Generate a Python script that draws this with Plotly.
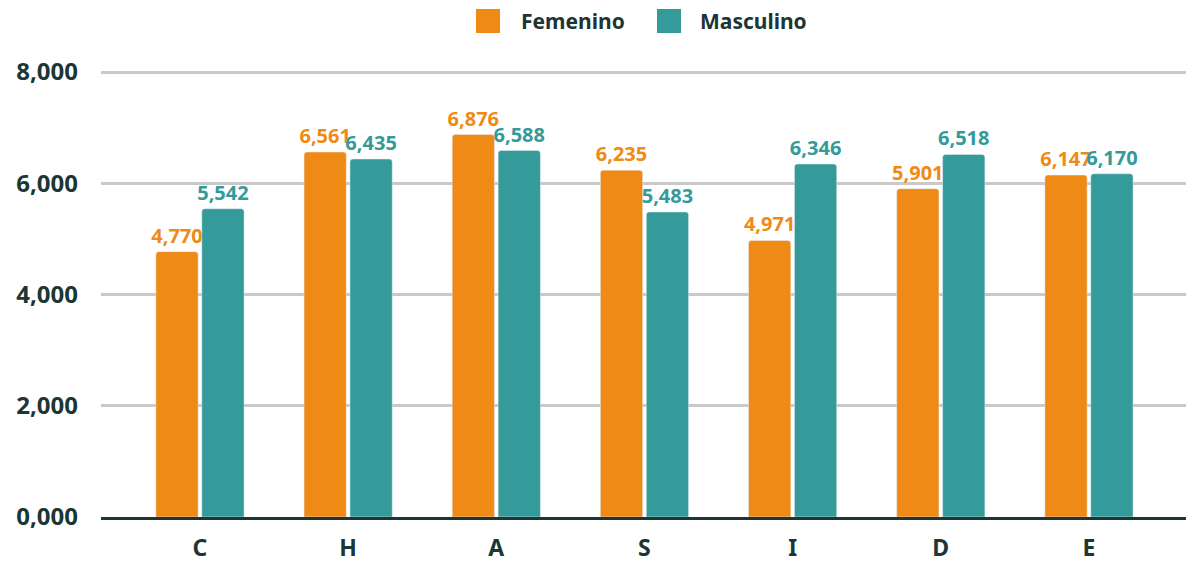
import plotly.graph_objects as go

categories = ["C", "H", "A", "S", "I", "D", "E"]
femenino = [4770, 6561, 6876, 6235, 4971, 5901, 6147]
masculino = [5542, 6435, 6588, 5483, 6346, 6518, 6170]
y_tickvals = [0, 2000, 4000, 6000, 8000]
y_ticktext = ["0,000", "2,000", "4,000", "6,000", "8,000"]

ORANGE = "#F08A16"
TEAL = "#349A9A"
DARK = "#1C3535"
FONT = "Noto Sans"

fig = go.Figure()
fig.add_trace(go.Bar(
    x=categories, y=femenino, name="Femenino",
    marker=dict(color=ORANGE, cornerradius=3),
    text=[f"{v:,}" for v in femenino], textposition="outside",
    textfont=dict(family=FONT, size=20, color=ORANGE, weight="bold"),
    cliponaxis=False, constraintext="none", showlegend=False,
))
fig.add_trace(go.Bar(
    x=categories, y=masculino, name="Masculino",
    marker=dict(color=TEAL, cornerradius=3),
    text=[f"{v:,}" for v in masculino], textposition="outside",
    textfont=dict(family=FONT, size=20, color=TEAL, weight="bold"),
    cliponaxis=False, constraintext="none", showlegend=False,
))

T, B = 70, 45
H = 562 - T - B

# Legend drawn manually
legend_items = [("Femenino", ORANGE, 476, 519), ("Masculino", TEAL, 657, 698)]
for label, color, sx, tx in legend_items:
    fig.add_shape(type="rect", xref="paper", yref="paper",
                  x0=(sx - 101) / 1085, x1=(sx + 24 - 101) / 1085,
                  y0=(562 - B - 33) / H, y1=(562 - B - 9) / H,
                  fillcolor=color, line=dict(width=0))
    fig.add_annotation(text=label, xref="paper", yref="paper",
                       x=(tx - 101) / 1085, y=(562 - B - 21) / H,
                       xanchor="left", yanchor="middle", showarrow=False,
                       font=dict(family=FONT, size=21, color=DARK, weight="bold"))

fig.update_layout(
    width=1186, height=562,
    margin=dict(l=101, r=0, t=T, b=B, autoexpand=False),
    plot_bgcolor="white", paper_bgcolor="white",
    barmode="group", bargap=0.38, bargroupgap=0.08,
    font=dict(family=FONT, color=DARK),
)
fig.update_xaxes(
    range=[-0.668, 6.655], automargin=False,
    showline=True, linecolor=DARK, linewidth=3,
    showgrid=False, ticks="",
    tickfont=dict(family=FONT, size=23, color=DARK, weight="bold"),
    ticklabelstandoff=8,
)
fig.update_yaxes(
    range=[0, 8000 * H / 445], automargin=False,
    tickvals=y_tickvals, ticktext=y_ticktext,
    showgrid=True, gridcolor="#C9C9C9", gridwidth=3,
    zeroline=False, showline=False, ticks="",
    tickfont=dict(family=FONT, size=24, color=DARK, weight="bold"),
    ticklabelstandoff=22,
)

fig.write_html("out.html", config={"displayModeBar": False},
               post_script="document.body.style.margin='0';")
